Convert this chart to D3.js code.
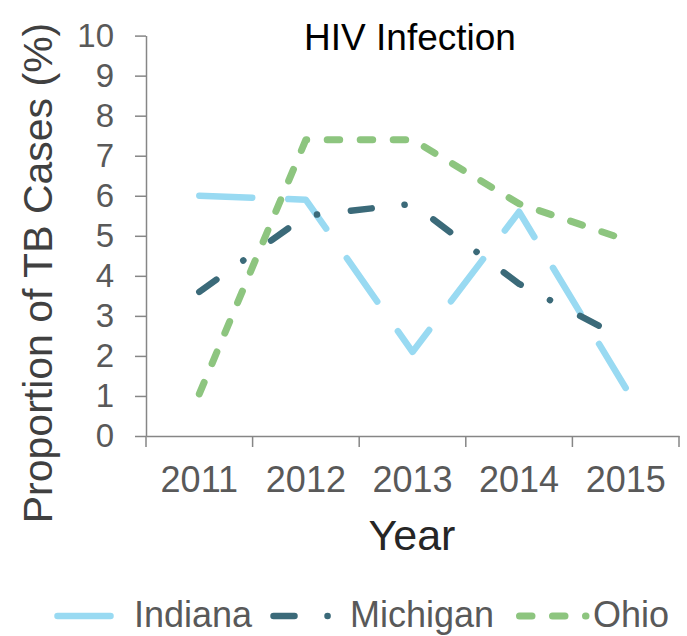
<!DOCTYPE html>
<html>
<head>
<meta charset="utf-8">
<script src="https://cdn.jsdelivr.net/npm/d3@7"></script>
<style>
  body { margin: 0; background: #fff; }
  svg { font-family: "Liberation Sans", Arial, sans-serif; }
</style>
</head>
<body>
<svg id="chart" width="687" height="636"></svg>
<script>
// data
var years = ["2011", "2012", "2013", "2014", "2015"];
var indiana = [6.0, 5.9, 2.1, 5.6, 1.2];
var michigan = [3.6, 5.5, 5.8, 3.8, 2.4];
var ohio = [1.05, 7.4, 7.4, 5.8, 4.9];
var yTicks = [0, 1, 2, 3, 4, 5, 6, 7, 8, 9, 10];

var series = [
  {name: "Indiana", values: indiana, color: "#99daf2", width: 6.5, dash: "53,36"},
  {name: "Michigan", values: michigan, color: "#3b6a79", width: 6.5, dash: "21,33,0.1,34"},
  {name: "Ohio", values: ohio, color: "#8dc57f", width: 7, dash: "12.5,20.5"}
];

var svg = d3.select("#chart"),
    plotLeft = 146, plotRight = 679, plotTop = 35.6, plotBottom = 436;

var x = d3.scaleBand().domain(years).range([plotLeft, plotRight]);
var y = d3.scaleLinear().domain([0, 10]).range([plotBottom, plotTop]);

var axisColor = "#868686";

// y axis
var gy = svg.append("g")
    .attr("transform", "translate(" + plotLeft + ",0)")
    .call(d3.axisLeft(y).tickValues(yTicks).tickSize(11).tickSizeOuter(0).tickPadding(21));
gy.select(".domain").attr("stroke", axisColor).attr("stroke-width", 1.5);
gy.selectAll(".tick line").attr("stroke", axisColor).attr("stroke-width", 1.5);
gy.selectAll(".tick text")
    .attr("font-size", 33)
    .attr("fill", "#595959")
    .attr("font-family", "Liberation Sans, Arial, sans-serif");

// x axis: tick marks sit on the band edges
var gx = svg.append("g")
    .attr("transform", "translate(0," + plotBottom + ")")
    .call(d3.axisBottom(x).tickSize(0));
gx.select(".domain").attr("stroke", axisColor).attr("stroke-width", 1.5);
gx.selectAll(".tick text")
    .attr("y", 56)
    .attr("dy", 0)
    .attr("font-size", 36)
    .attr("fill", "#595959")
    .attr("font-family", "Liberation Sans, Arial, sans-serif");
gx.selectAll(".edge")
    .data(years.concat(["end"]))
    .enter().append("line")
    .attr("class", "edge")
    .attr("x1", function(d, i) { return plotLeft + i * x.bandwidth(); })
    .attr("x2", function(d, i) { return plotLeft + i * x.bandwidth(); })
    .attr("y1", 0)
    .attr("y2", 11)
    .attr("stroke", axisColor)
    .attr("stroke-width", 1.5);

// lines
var line = d3.line()
    .x(function(d, i) { return x(years[i]) + x.bandwidth() / 2; })
    .y(function(d) { return y(d); });

svg.append("g")
    .selectAll("path")
    .data(series)
    .enter().append("path")
    .attr("d", function(d) { return line(d.values); })
    .attr("fill", "none")
    .attr("stroke", function(d) { return d.color; })
    .attr("stroke-width", function(d) { return d.width; })
    .attr("stroke-dasharray", function(d) { return d.dash; })
    .attr("stroke-linecap", "round")
    .attr("stroke-linejoin", "round");

// titles
svg.append("text")
    .attr("x", 410)
    .attr("y", 50)
    .attr("text-anchor", "middle")
    .attr("font-size", 37)
    .attr("fill", "#000")
    .text("HIV Infection");

svg.append("text")
    .attr("x", 412)
    .attr("y", 550)
    .attr("text-anchor", "middle")
    .attr("font-size", 43)
    .attr("fill", "#262626")
    .text("Year");

svg.append("text")
    .attr("transform", "translate(52,273) rotate(-90)")
    .attr("text-anchor", "middle")
    .attr("font-size", 41)
    .attr("fill", "#404040")
    .text("Proportion of TB Cases (%)");

// legend
var legendX = [54, 270, 517];
var legend = svg.append("g")
    .selectAll("g")
    .data(series)
    .enter().append("g")
    .attr("transform", function(d, i) { return "translate(" + legendX[i] + ",616)"; });

legend.append("line")
    .attr("x1", function(d, i) { return i == 2 ? 2.5 : 3.5; })
    .attr("x2", function(d, i) { return i == 2 ? 69 : 66; })
    .attr("stroke", function(d) { return d.color; })
    .attr("stroke-width", function(d) { return d.width; })
    .attr("stroke-dasharray", function(d) { return d.dash; })
    .attr("stroke-linecap", "round");

legend.append("text")
    .attr("x", function(d, i) { return i == 2 ? 76 : 80; })
    .attr("y", 11)
    .attr("font-size", 36)
    .attr("fill", "#595959")
    .text(function(d) { return d.name; });
</script>
</body>
</html>
